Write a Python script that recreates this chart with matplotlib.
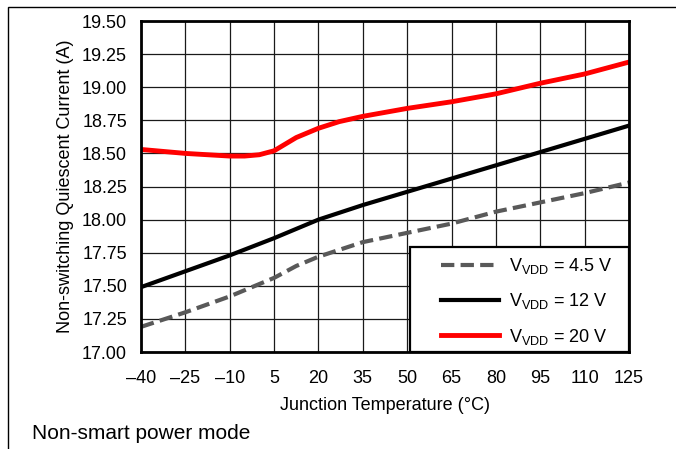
import matplotlib
matplotlib.use("Agg")
import matplotlib.pyplot as plt
from matplotlib.patches import Rectangle

plt.rcParams['font.family'] = ['Liberation Sans', 'DejaVu Sans']
plt.rcParams['mathtext.fontset'] = 'custom'
plt.rcParams['mathtext.rm'] = 'Liberation Sans'

# data
temp = [-40, -25, -10, 5, 12.5, 20, 35, 50, 65, 80, 95, 110, 125]
v45 = [17.19, 17.30, 17.42, 17.56, 17.65, 17.72, 17.83, 17.90, 17.97, 18.06, 18.13, 18.20, 18.28]
v12 = [17.49, 17.61, 17.73, 17.86, 17.93, 18.00, 18.11, 18.21, 18.31, 18.41, 18.51, 18.61, 18.71]
temp20 = [-40, -25, -10, -5, 0, 5, 12.5, 20, 27, 35, 50, 65, 80, 95, 110, 125]
v20 = [18.53, 18.50, 18.48, 18.48, 18.49, 18.52, 18.62, 18.69, 18.74, 18.78, 18.84, 18.89, 18.95, 19.03, 19.10, 19.19]

xticks = [-40, -25, -10, 5, 20, 35, 50, 65, 80, 95, 110, 125]
xticklabels = ['–40', '–25', '–10', '5', '20', '35', '50', '65', '80', '95', '110', '125']
yticks = [17.00, 17.25, 17.50, 17.75, 18.00, 18.25, 18.50, 18.75, 19.00, 19.25, 19.50]

fig = plt.figure(figsize=(6.76, 4.49), dpi=100)
ax = fig.add_axes([0.2086, 0.216, 0.7219, 0.7372])

# outer frame (left and top edges visible)
fig.add_artist(Rectangle((0.012, -0.1), 1.2, 0.1 + 0.9844, transform=fig.transFigure,
                         fill=False, edgecolor='black', linewidth=1.0))

ax.plot(temp, v45, color='#595959', linewidth=3.0, dashes=(3.2, 1.5),
        label=r'V$_\mathregular{VDD}$ = 4.5 V')
ax.plot(temp, v12, color='black', linewidth=3.0, label=r'V$_\mathregular{VDD}$ = 12 V')
ax.plot(temp20, v20, color='#ff0000', linewidth=3.5, label=r'V$_\mathregular{VDD}$ = 20 V')

ax.set_xlim(-40, 125)
ax.set_ylim(17.0, 19.5)
ax.set_xticks(xticks)
ax.set_xticklabels(xticklabels)
ax.set_yticks(yticks)
ax.set_yticklabels(['%.2f' % v for v in yticks])
ax.tick_params(axis='y', length=0, labelsize=13, pad=10)
ax.tick_params(axis='x', length=0, labelsize=13, pad=13)
ax.grid(True, color='#1a1a1a', linewidth=0.9)
ax.set_axisbelow(True)
for s in ax.spines.values():
    s.set_linewidth(2.0)

ax.set_xlabel('Junction Temperature (°C)', fontsize=13, labelpad=7)
ax.set_ylabel('Non-switching Quiescent Current (A)', fontsize=13, labelpad=6)

# legend box
ax.add_patch(Rectangle((0.551, 0.0), 0.449, 0.317, transform=ax.transAxes,
                       facecolor='white', edgecolor='black', linewidth=1.6, zorder=4))
leg = ax.legend(loc='upper left', bbox_to_anchor=(0.615, 0.29), borderaxespad=0,
                frameon=False, fontsize=13, handlelength=3.2, handletextpad=0.55,
                labelspacing=0.85, borderpad=0)
leg.set_zorder(5)

fig.text(0.047, 0.0356, 'Non-smart power mode', fontsize=15, ha='left', va='center')

fig.savefig('out.png', dpi=100)
